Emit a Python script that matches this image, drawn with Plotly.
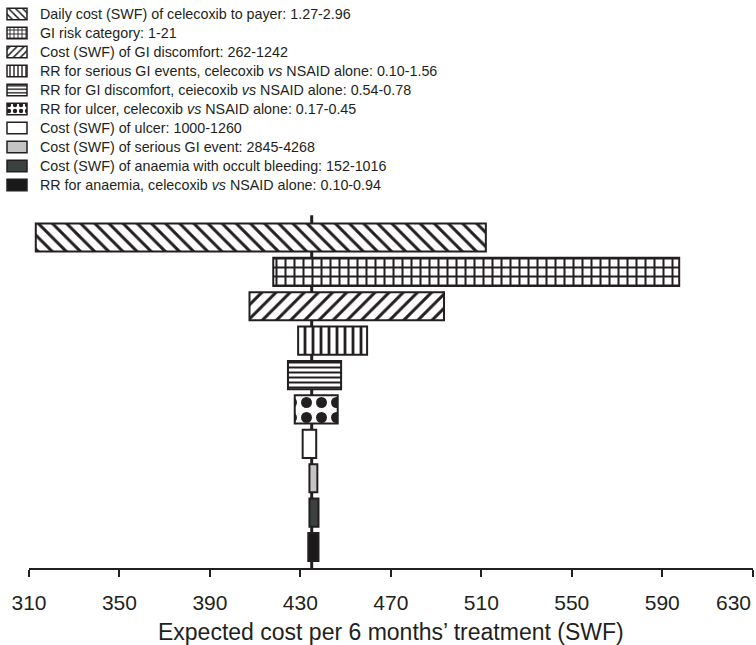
import plotly.graph_objects as go

# One-way sensitivity analysis (tornado diagram)
parameters = [
    "Daily cost (SWF) of celecoxib to payer: 1.27-2.96",
    "GI risk category: 1-21",
    "Cost (SWF) of GI discomfort: 262-1242",
    "RR for serious GI events, celecoxib <i>vs</i> NSAID alone: 0.10-1.56",
    "RR for GI discomfort, ceiecoxib <i>vs</i> NSAID alone: 0.54-0.78",
    "RR for ulcer, celecoxib <i>vs</i> NSAID alone: 0.17-0.45",
    "Cost (SWF) of ulcer: 1000-1260",
    "Cost (SWF) of serious GI event: 2845-4268",
    "Cost (SWF) of anaemia with occult bleeding: 152-1016",
    "RR for anaemia, celecoxib <i>vs</i> NSAID alone: 0.10-0.94",
]
cost_low = [313, 418, 407.5, 429, 424.5, 427.5, 431, 434, 434, 433.5]
cost_high = [512, 597.5, 493.5, 459.5, 448, 446.5, 437, 437.5, 438, 438]
base_case = 435
x_ticks = [310, 350, 390, 430, 470, 510, 550, 590, 630]

INK = "#231f20"
W, H = 756, 645
FONT = "Liberation Sans, Arial, Helvetica, sans-serif"

# fill style for each parameter: (background colour, pattern shape, bar pattern size, key pattern size, solidity)
styles = [
    ("white", "\\", 10, 5, 0.3),
    ("white", "+", 9, 4, 0.4),
    ("white", "/", 10, 5, 0.3),
    ("white", "|", 8, 4, 0.35),
    ("white", "-", 5, 3.5, 0.4),
    ("white", ".", 15, 6, 0.42),
    ("white", "", 0, 0, 0),
    ("#c4c4c4", "", 0, 0, 0),
    ("#3b4141", "", 0, 0, 0),
    ("#1a1a1a", "", 0, 0, 0),
]


def marker_for(i, key=False):
    bg, shape, size_bar, size_key, sol = styles[i]
    m = dict(color=bg, line=dict(color=INK, width=1.5 if key else 2))
    if shape:
        m["pattern"] = dict(shape=shape, size=size_key if key else size_bar,
                            solidity=sol, fgcolor=INK, fgopacity=1)
    return m


fig = go.Figure()

# tornado bars: from low to high expected cost
for i, name in enumerate(parameters):
    fig.add_trace(go.Bar(
        y=[i], x=[cost_high[i] - cost_low[i]], base=[cost_low[i]],
        orientation="h", width=0.82, marker=marker_for(i),
        showlegend=False, hoverinfo="skip", xaxis="x", yaxis="y",
    ))

# key swatches, drawn on a pixel-scaled key axis above the plot
KEY_X0, KEY_W = 7, 20
for i, name in enumerate(parameters):
    fig.add_trace(go.Bar(
        y=[i], x=[KEY_W], base=[KEY_X0], orientation="h", width=0.6,
        marker=marker_for(i, key=True), showlegend=False, hoverinfo="skip",
        xaxis="x2", yaxis="y2",
    ))
    fig.add_annotation(x=38, y=i, xref="x2", yref="y2", text=name,
                       showarrow=False, xanchor="left", yanchor="middle",
                       font=dict(size=14.3, family=FONT, color=INK))

# base-case line through the bars
fig.add_shape(type="line", xref="x", yref="y", x0=base_case, x1=base_case,
              y0=-0.65, y1=9.61, line=dict(color=INK, width=3), layer="below")

PLOT_H = 568  # paper height (figure minus bottom margin)
fig.update_layout(
    width=W, height=H,
    margin=dict(l=0, r=0, t=0, b=H - PLOT_H, autoexpand=False),
    paper_bgcolor="white", plot_bgcolor="rgba(0,0,0,0)",
    font=dict(family=FONT, color=INK),
    barmode="overlay", showlegend=False,
    xaxis=dict(
        domain=[29 / W, 752.7 / W],
        range=[310, 630], tickvals=x_ticks,
        ticktext=[str(v) if v != 630 else "" for v in x_ticks],
        showline=True, linecolor=INK, linewidth=2,
        ticks="outside", ticklen=7, tickwidth=2, tickcolor=INK,
        showgrid=False, zeroline=False,
        tickfont=dict(size=21, family=FONT, color=INK),
        ticklabelstandoff=8,
        title=dict(text="Expected cost per 6 months’ treatment (SWF)",
                   font=dict(size=23, family=FONT, color=INK), standoff=16),
    ),
    yaxis=dict(domain=[0, (PLOT_H - 200) / PLOT_H], range=[9.61, -1.09],
               visible=False, showgrid=False, zeroline=False),
    xaxis2=dict(domain=[0, 1], range=[0, W], visible=False, anchor="y2"),
    yaxis2=dict(domain=[1 - 195 / PLOT_H, 1], range=[9 + 10 / 19, -14 / 19],
                visible=False, anchor="x2"),
)

fig.add_annotation(x=630, y=0, xref="x", yref="paper", text="630",
                   showarrow=False, xanchor="right", yanchor="top", yshift=-21,
                   font=dict(size=21, family=FONT, color=INK))

fig.write_html("out.html")
